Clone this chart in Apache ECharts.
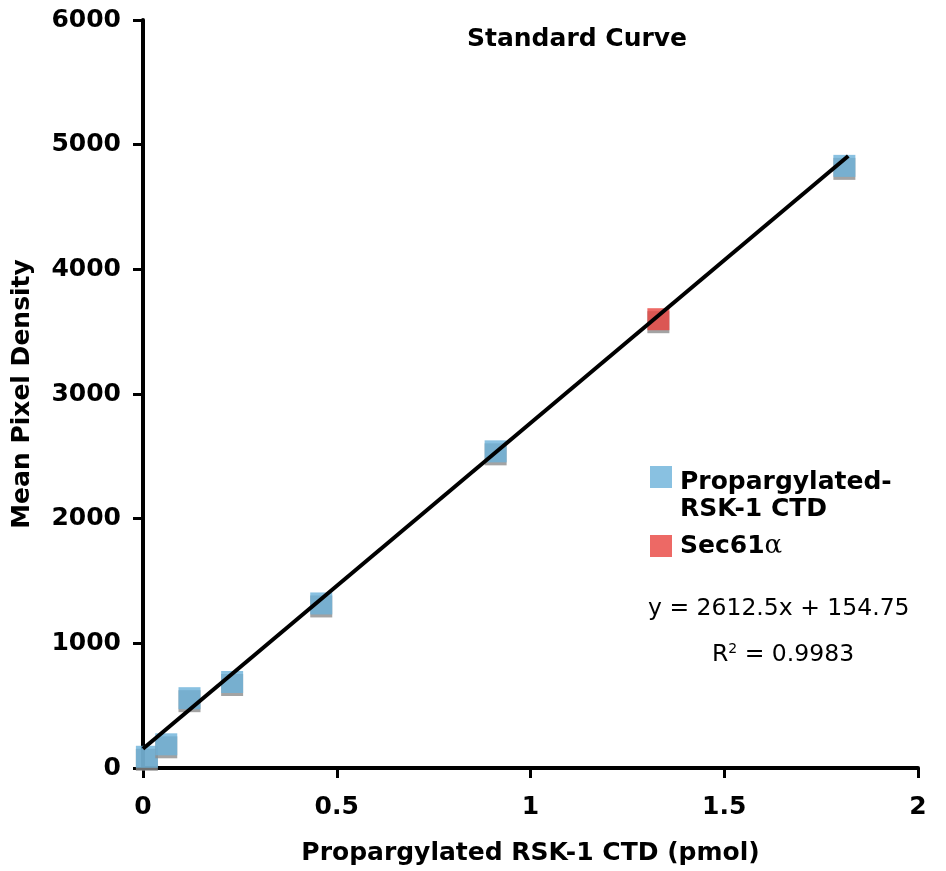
<!DOCTYPE html>
<html>
<head>
<meta charset="utf-8">
<script src="https://cdn.jsdelivr.net/npm/echarts@6/dist/echarts.min.js"></script>
<style>html,body{margin:0;padding:0;background:#fff}#c{width:946px;height:871px}</style>
</head>
<body>
<div id="c"></div>
<script>
var titleText = 'Standard Curve';
var xAxisName = 'Propargylated RSK-1 CTD (pmol)';
var yAxisName = 'Mean Pixel Density';
var seriesNames = ['Propargylated-RSK-1 CTD', 'Sec61α'];
var rskX = [0.01, 0.06, 0.12, 0.23, 0.46, 0.91, 1.81];
var rskY = [90, 190, 560, 690, 1320, 2540, 4830];
var secX = [1.33];
var secY = [3600];
var fitSlope = 2612.5;
var fitIntercept = 154.75;
var fitRange = [0, 1.82];
var eqText = 'y = 2612.5x + 154.75';
var r2Value = '0.9983';
var xTicks = [0, 0.5, 1, 1.5, 2];
var yTicks = [0, 1000, 2000, 3000, 4000, 5000, 6000];

var FONT = 'DejaVu Sans';
var chart = echarts.init(document.getElementById('c'));
function pairs(xs, ys){ return xs.map(function(x,i){ return [x, ys[i]]; }); }
var fitData = fitRange.map(function(x){ return [x, fitSlope*x + fitIntercept]; });
var markerShadow = {shadowColor:'#8c8c8c', shadowOffsetY:3, shadowBlur:0};
var legendRich = {
  b:{fontFamily:FONT, fontWeight:'bold', fontSize:25, color:'#000', lineHeight:27},
  a:{fontFamily:'DejaVu Serif', fontSize:26, color:'#000', lineHeight:27}
};

chart.setOption({
  animation:false,
  backgroundColor:'#fff',
  title:{text:titleText, left:467, top:27, padding:0, textStyle:{fontFamily:FONT, fontWeight:'bold', fontSize:25, color:'#000'}},
  grid:{left:143, right:28, top:20, bottom:103, containLabel:false},
  legend:{
    orient:'vertical', left:650, top:466, padding:0, itemWidth:22, itemHeight:22, itemGap:11,
    data:[
      {name:seriesNames[0], icon:'rect', textStyle:{padding:[38,0,0,3], rich:legendRich}},
      {name:seriesNames[1], icon:'rect', textStyle:{padding:[0,0,0,3], rich:legendRich}}
    ],
    formatter:function(n){
      if(n===seriesNames[0]) return '{b|Propargylated-}\n{b|RSK-1 CTD}';
      return '{b|Sec61}{a|α}';
    },
    textStyle:{rich:legendRich}
  },
  xAxis:{
    type:'value', min:xTicks[0], max:xTicks[xTicks.length-1], interval:0.5,
    name:xAxisName, nameLocation:'middle', nameGap:73,
    nameTextStyle:{fontFamily:FONT, fontWeight:'bold', fontSize:25, color:'#000'},
    axisLine:{show:true, lineStyle:{color:'#000', width:4}},
    axisTick:{show:true, length:10, lineStyle:{color:'#000', width:3}},
    axisLabel:{fontFamily:FONT, fontWeight:'bold', fontSize:25, color:'#000', margin:27},
    splitLine:{show:false}
  },
  yAxis:{
    type:'value', min:yTicks[0], max:yTicks[yTicks.length-1], interval:1000,
    name:yAxisName, nameLocation:'middle', nameGap:108,
    nameTextStyle:{fontFamily:FONT, fontWeight:'bold', fontSize:25, color:'#000'},
    axisLine:{show:true, lineStyle:{color:'#000', width:4}},
    axisTick:{show:true, length:10, lineStyle:{color:'#000', width:3}},
    axisLabel:{fontFamily:FONT, fontWeight:'bold', fontSize:25, color:'#000', margin:22,
      formatter:function(v){ return String(v); }},
    splitLine:{show:false}
  },
  series:[
    {name:seriesNames[0], type:'scatter', symbol:'rect', symbolSize:22, clip:false, z:2,
     itemStyle:Object.assign({color:'#6cb2d9'}, markerShadow), data:pairs(rskX, rskY)},
    {name:seriesNames[1], type:'scatter', symbol:'rect', symbolSize:22, clip:false, z:2,
     itemStyle:Object.assign({color:'#e8433f'}, markerShadow), data:pairs(secX, secY)},
    {name:'fit', type:'line', data:fitData, symbol:'none', z:3, silent:true,
     lineStyle:{color:'#000', width:4}}
  ],
  graphic:[
    {type:'text', left:648, top:597, style:{text:eqText, fontFamily:FONT, fontSize:23.5, fill:'#000'}},
    {type:'text', left:712, top:642, style:{text:'R{s|2} = ' + r2Value, fontFamily:FONT, fontSize:23.5, fill:'#000',
      rich:{s:{fontFamily:FONT, fontSize:14, fill:'#000', verticalAlign:'top', padding:[0,0,12,0]}}}}
  ]
});
</script>
</body>
</html>
